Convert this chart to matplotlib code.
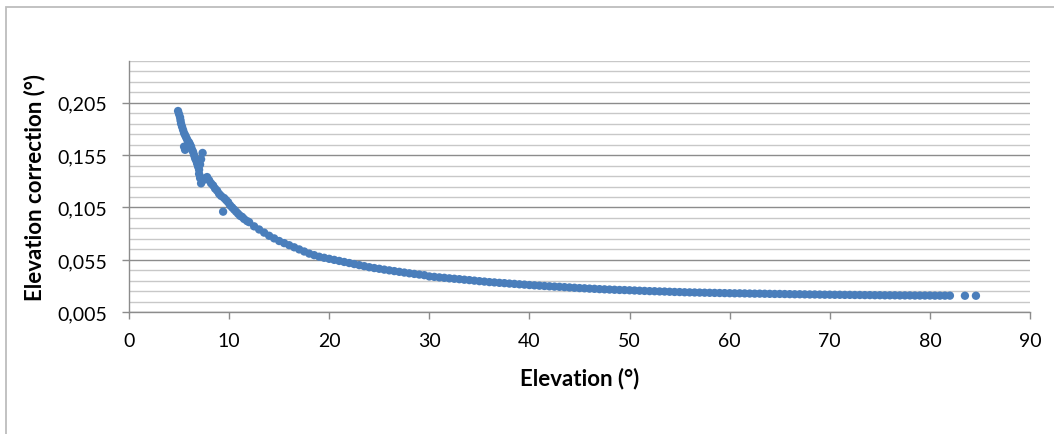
import matplotlib
matplotlib.use("Agg")
import matplotlib.pyplot as plt
from matplotlib.ticker import FuncFormatter
from matplotlib.patches import Rectangle
import numpy as np

plt.rcParams['font.family'] = ['Lato', 'DejaVu Sans']

# steep part (elevation < 12 deg), read point by point
elev_low = [4.9, 5.0, 5.1, 5.15, 5.2, 5.3, 5.4, 5.5, 5.6, 5.7, 5.8, 5.9,
            5.5, 5.6, 6.0, 6.1, 6.2, 6.3, 6.4, 6.5, 6.6, 6.7, 6.8, 6.9,
            7.0, 7.0, 7.1, 7.2, 7.35, 7.1, 7.2, 7.4, 7.6, 7.8, 8.0, 8.2,
            8.4, 8.6, 8.8, 9.0, 9.2, 9.4, 9.5, 9.7, 9.9, 10.1, 10.3, 10.5,
            10.7, 10.9, 11.1, 11.3, 11.5, 11.8]
corr_low = [0.197, 0.194, 0.191, 0.188, 0.185, 0.182, 0.179, 0.176, 0.174, 0.172, 0.170, 0.168,
            0.163, 0.160, 0.167, 0.165, 0.163, 0.160, 0.158, 0.155, 0.152, 0.150, 0.147, 0.144,
            0.141, 0.137, 0.146, 0.151, 0.157, 0.133, 0.128, 0.131, 0.133, 0.134, 0.131, 0.128,
            0.126, 0.123, 0.121, 0.118, 0.116, 0.101, 0.114, 0.112, 0.110, 0.107, 0.105, 0.103,
            0.101, 0.099, 0.097, 0.096, 0.094, 0.092]

# 12 - 30 deg
elev_mid = [12.0, 12.5, 13.0, 13.5, 14.0, 14.5, 15.0, 15.5, 16.0, 16.5,
            17.0, 17.5, 18.0, 18.5, 19.0, 19.5, 20.0, 20.5, 21.0, 21.5,
            22.0, 22.5, 23.0, 23.5, 24.0, 24.5, 25.0, 25.5, 26.0, 26.5,
            27.0, 27.5, 28.0, 28.5, 29.0, 29.5]
corr_mid = [0.091, 0.087, 0.084, 0.081, 0.078, 0.0755, 0.073, 0.071, 0.069, 0.067,
            0.065, 0.063, 0.061, 0.0595, 0.058, 0.057, 0.056, 0.055, 0.054, 0.053,
            0.052, 0.051, 0.050, 0.049, 0.048, 0.0472, 0.0465, 0.0457, 0.045, 0.0443,
            0.0436, 0.0429, 0.0422, 0.0416, 0.041, 0.0404]

# 30 - 85 deg tail
elev_high = [30.0, 30.5, 31.0, 31.5, 32.0, 32.5, 33.0, 33.5, 34.0, 34.5,
             35.0, 35.5, 36.0, 36.5, 37.0, 37.5, 38.0, 38.5, 39.0, 39.5,
             40.0, 40.5, 41.0, 41.5, 42.0, 42.5, 43.0, 43.5, 44.0, 44.5,
             45.0, 45.5, 46.0, 46.5, 47.0, 47.5, 48.0, 48.5, 49.0, 49.5,
             50.0, 50.5, 51.0, 51.5, 52.0, 52.5, 53.0, 53.5, 54.0, 54.5,
             55.0, 55.5, 56.0, 56.5, 57.0, 57.5, 58.0, 58.5, 59.0, 59.5,
             60.0, 60.5, 61.0, 61.5, 62.0, 62.5, 63.0, 63.5, 64.0, 64.5,
             65.0, 65.5, 66.0, 66.5, 67.0, 67.5, 68.0, 68.5, 69.0, 69.5,
             70.0, 70.5, 71.0, 71.5, 72.0, 72.5, 73.0, 73.5, 74.0, 74.5,
             75.0, 75.5, 76.0, 76.5, 77.0, 77.5, 78.0, 78.5, 79.0, 79.5,
             80.0, 80.5, 81.0, 81.5, 82.0, 83.5, 84.6]
corr_high = [0.0392, 0.0388, 0.0383, 0.0379, 0.0374, 0.0370, 0.0366, 0.0361, 0.0357, 0.0352,
             0.0347, 0.0343, 0.0338, 0.0335, 0.0331, 0.0328, 0.0324, 0.0321, 0.0317, 0.0314,
             0.0310, 0.0307, 0.0304, 0.0301, 0.0298, 0.0295, 0.0293, 0.0290, 0.0287, 0.0284,
             0.0281, 0.0279, 0.0276, 0.0274, 0.0271, 0.0269, 0.0267, 0.0265, 0.0263, 0.0262,
             0.0260, 0.0258, 0.0256, 0.0254, 0.0252, 0.0251, 0.0249, 0.0248, 0.0246, 0.0244,
             0.0243, 0.0241, 0.0240, 0.0239, 0.0238, 0.0237, 0.0236, 0.0235, 0.0234, 0.0233,
             0.0232, 0.0231, 0.0231, 0.0230, 0.0229, 0.0228, 0.0228, 0.0227, 0.0226, 0.0225,
             0.0225, 0.0224, 0.0223, 0.0222, 0.0222, 0.0221, 0.0220, 0.0220, 0.0219, 0.0218,
             0.0218, 0.0217, 0.0217, 0.0216, 0.0216, 0.0215, 0.0215, 0.0214, 0.0214, 0.0213,
             0.0213, 0.0212, 0.0212, 0.0212, 0.0211, 0.0211, 0.0211, 0.0210, 0.0210, 0.0210,
             0.0210, 0.0209, 0.0209, 0.0209, 0.0209, 0.0208, 0.0208]

elevation = elev_low + elev_mid + elev_high
correction = corr_low + corr_mid + corr_high

y_major = [0.005, 0.055, 0.105, 0.155, 0.205]
x_ticks = [0, 10, 20, 30, 40, 50, 60, 70, 80, 90]

W, H = 1054, 435
fig = plt.figure(figsize=(W / 100, H / 100), dpi=100)
# outer chart frame, cut off at right and bottom like the screenshot
fig.patches.append(Rectangle((5.5 / W, -0.1), 1.2, 1.1 - 7.5 / H,
                             transform=fig.transFigure, fill=False,
                             edgecolor='#BDBDBD', linewidth=1.3))
ax = fig.add_axes([129 / W, 1 - 313.3 / H, (1030 - 129) / W, (313.3 - 61.7) / H])

ax.scatter(elevation, correction, s=36, color='#4A7EBB', edgecolors='none', zorder=3)

ax.set_xlim(0, 90)
ax.set_ylim(0.005, 0.245)
ax.set_xticks(x_ticks)
ax.set_yticks(y_major)
ax.set_yticks(np.arange(0.015, 0.2451, 0.01), minor=True)
ax.yaxis.set_major_formatter(FuncFormatter(lambda v, p: ("%.3f" % v).replace(".", ",")))

ax.grid(axis='y', which='minor', color='#C8C8C8', linewidth=1.0)
ax.grid(axis='y', which='major', color='#8C8C8C', linewidth=1.0)
ax.set_axisbelow(True)

for s in ['top', 'right']:
    ax.spines[s].set_visible(False)
for s in ['left', 'bottom']:
    ax.spines[s].set_color('#8C8C8C')
    ax.spines[s].set_linewidth(1.0)

ax.tick_params(axis='both', which='major', length=5, width=1.0, color='#8C8C8C',
               labelsize=14, labelcolor='#000000')
ax.tick_params(axis='y', which='major', pad=11)
ax.tick_params(axis='x', which='major', pad=9)
ax.tick_params(axis='y', which='minor', length=0)

ax.set_xlabel("Elevation (°)", fontsize=16, fontweight='bold')
ax.set_ylabel("Elevation correction (°)", fontsize=16, fontweight='bold')
ax.xaxis.set_label_coords(0.5, -54 / 251.6)
ax.yaxis.set_label_coords(-84 / 901, 0.5)

fig.savefig("out.png", dpi=100)
